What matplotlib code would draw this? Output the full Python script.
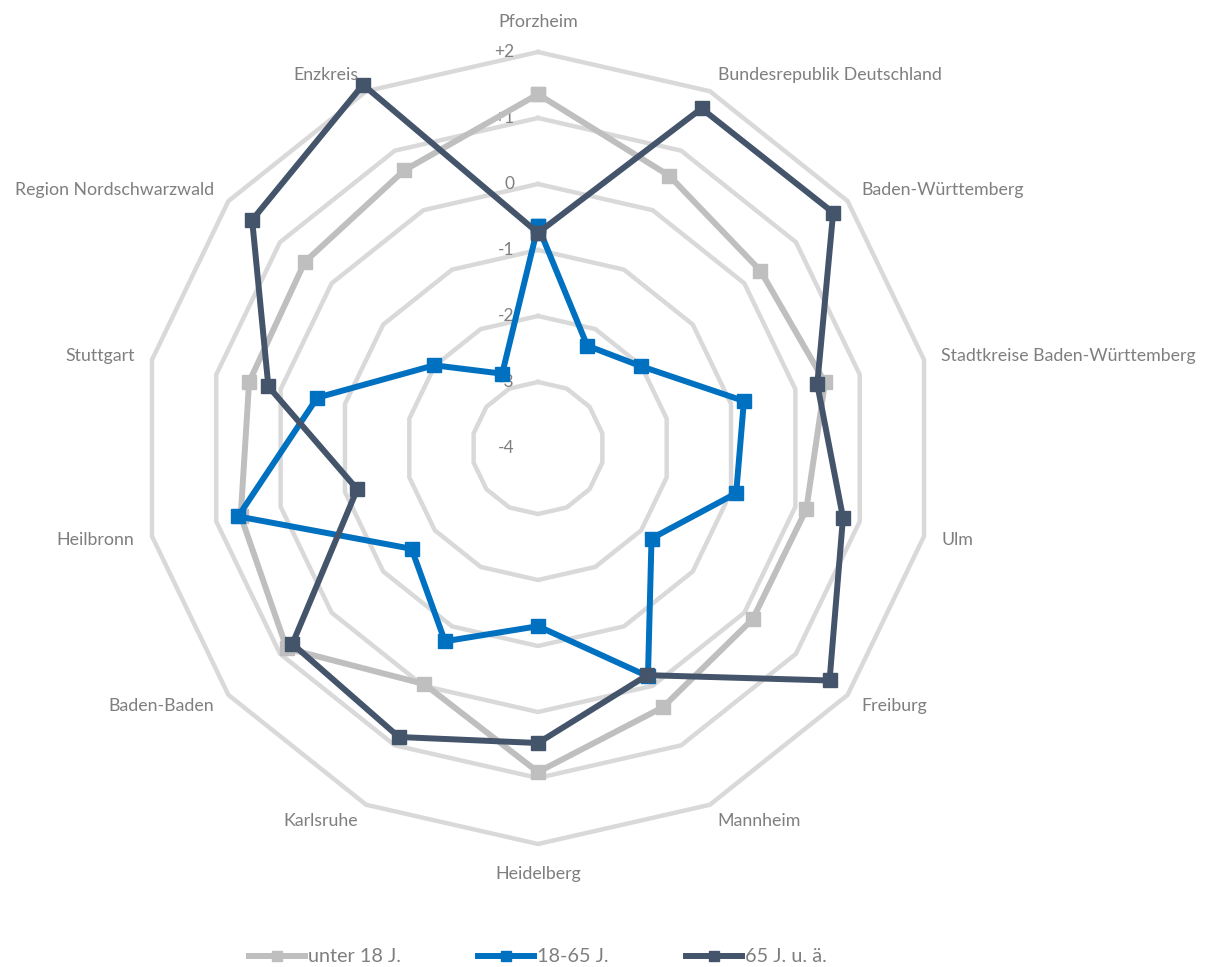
import numpy as np
import matplotlib
matplotlib.use("Agg")
import matplotlib.pyplot as plt
from matplotlib.lines import Line2D

categories = ["Pforzheim", "Bundesrepublik Deutschland", "Baden-Württemberg",
              "Stadtkreise Baden-Württemberg", "Ulm", "Freiburg", "Mannheim",
              "Heidelberg", "Karlsruhe", "Baden-Baden", "Heilbronn", "Stuttgart",
              "Region Nordschwarzwald", "Enzkreis"]
series_names = ["unter 18 J.", "18-65 J.", "65 J. u. ä."]
unter18 = [1.36, 0.58, 0.31, 0.46, 0.17, 0.16, 0.36, 0.91, -0.03, 0.87, 0.62, 0.49, 0.52, 0.67]
mittel = [-0.64, -2.28, -2.01, -0.80, -0.92, -1.80, -0.16, -1.30, -0.75, -1.55, 0.66, -0.57, -1.99, -2.75]
senioren = [-0.74, 1.71, 1.72, 0.34, 0.74, 1.65, -0.18, 0.47, 0.86, 0.76, -1.19, 0.19, 1.54, 2.11]
ticks = [-4, -3, -2, -1, 0, 1, 2]
tick_labels = ["-4", "-3", "-2", "-1", "0", "+1", "+2"]

colors = ["#BFBFBF", "#0070C0", "#44546A"]
grid_color = "#D9D9D9"
text_color = "#7F7F7F"
font = ["Lato", "DejaVu Sans"]
plt.rcParams['font.family'] = font

W, H = 1205, 967
fig = plt.figure(figsize=(W / 100, H / 100), dpi=100)
cx, cy, R = 538, 448, 396
ax = fig.add_axes([(cx - R) / W, (H - cy - R) / H, 2 * R / W, 2 * R / H], projection="polar")
ax.set_theta_zero_location("N")
ax.set_theta_direction(-1)
ax.set_ylim(-4, 2)
ax.set_xticks([])
ax.set_yticks([])
ax.grid(False)
ax.spines["polar"].set_visible(False)
ax.patch.set_alpha(0)

n = len(categories)
theta = np.arange(n) * 2 * np.pi / n
theta_c = np.append(theta, theta[0])

# grid rings
for t in ticks[1:]:
    ax.plot(theta_c, [t] * (n + 1), color=grid_color, lw=3.2, zorder=1, clip_on=False)

# tick labels
for t, lab in zip(ticks, tick_labels):
    ax.annotate(lab, xy=(0, t), xytext=(-17, 0), textcoords="offset points",
                ha="right", va="center", fontsize=12.5, color=text_color, zorder=2,
                annotation_clip=False)

# series
for vals, col in zip([unter18, mittel, senioren], colors):
    v = list(vals) + [vals[0]]
    ax.plot(theta_c, v, color=col, lw=4.3, marker="s", markersize=9.5,
            zorder=3, clip_on=False)

# category labels
for th, name in zip(theta, categories):
    deg = np.degrees(th)
    if abs(deg) < 1 or abs(deg - 180) < 1:
        ax.text(th, 2.45, name, ha="center", va="center", fontsize=12.8, color=text_color)
    else:
        ha = "left" if deg < 180 else "right"
        ax.text(th, 2.27, name, ha=ha, va="center", fontsize=12.8, color=text_color)

handles = [Line2D([0], [0], color=c, lw=4.3, marker="s", markersize=6.5) for c in colors]
fig.legend(handles, series_names, loc="center", bbox_to_anchor=(cx / W, 1 - 957 / H),
           ncol=3, frameon=False, fontsize=14.3, handlelength=2.8, handletextpad=0.15,
           columnspacing=3.9, labelcolor=text_color)

fig.savefig("out.png", dpi=100)
